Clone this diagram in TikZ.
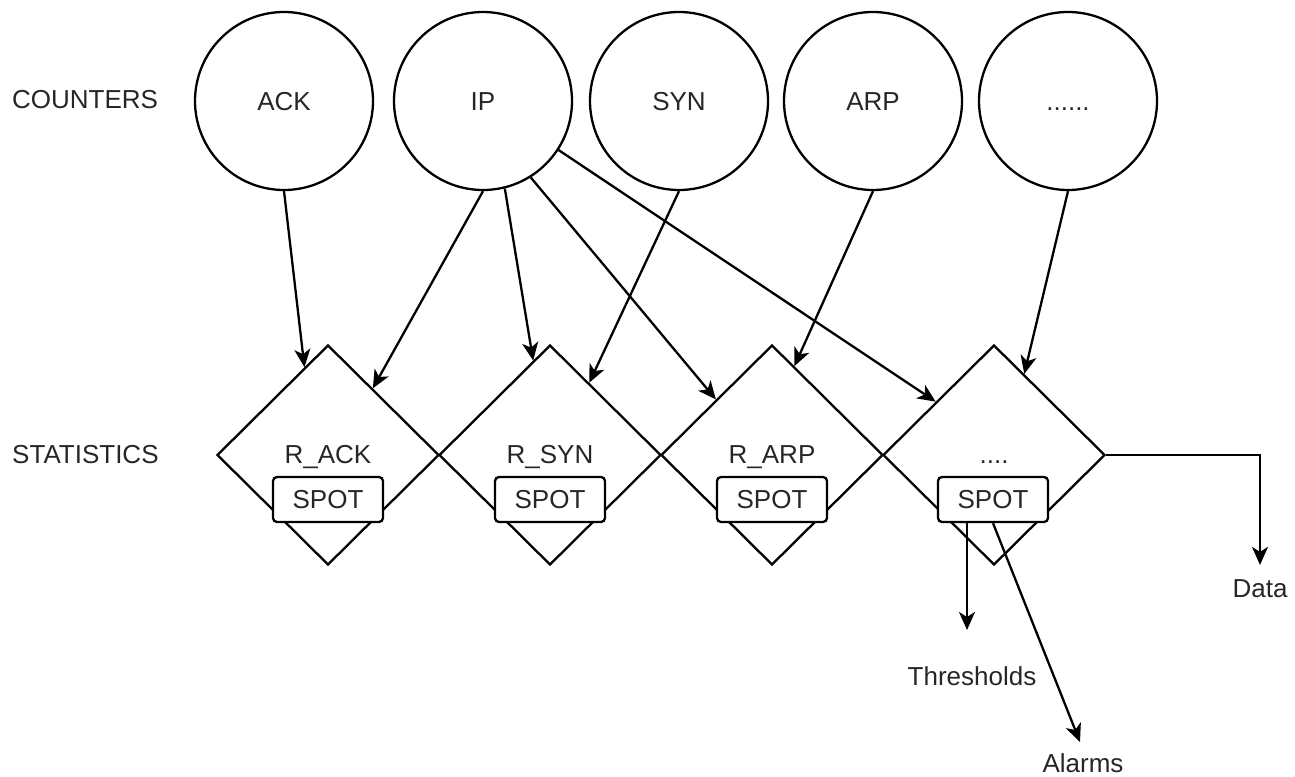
\documentclass[tikz,border=0pt]{standalone}
\usepackage{fontspec}
\setmainfont{Liberation Sans}
\usetikzlibrary{shapes.geometric,arrows.meta,calc}
\begin{document}
\begin{tikzpicture}[x=1pt,y=-1pt,
  every node/.style={font=\fontsize{26}{31}\selectfont, text=black!85},
  ctr/.style={circle, draw, line width=2.3pt, minimum size=178pt, inner sep=0pt, text height=18pt, text depth=0pt},
  dia/.style={diamond, draw, line width=2.3pt, minimum width=222pt, minimum height=220pt, inner sep=0pt},
  spotbox/.style={rectangle, rounded corners=4pt, draw, fill=white, line width=2.3pt, minimum width=110pt, minimum height=45pt, inner sep=0pt},
  lbl/.style={inner sep=0pt, anchor=base},
  arr/.style={line width=2.3pt, -{Stealth[length=18pt,width=16pt,inset=5pt]}}
]
\useasboundingbox (0,0) rectangle (1295,776);

% row labels
\node[lbl, anchor=base west] (counters) at (12,108) {COUNTERS};
\node[lbl, anchor=base west] (statistics) at (12,463) {STATISTICS};

% counters
\node[ctr] (ack) at (284,101) {ACK};
\node[ctr] (ip) at (483,101) {IP};
\node[ctr] (syn) at (679,101) {SYN};
\node[ctr] (arp) at (873,101) {ARP};
\node[ctr] (cdots) at (1068,101) {......};

% statistics diamonds
\node[dia] (dack) at (328,455) {};
\node[dia] (dsyn) at (550,455) {};
\node[dia] (darp) at (772,455) {};
\node[dia] (ddots) at (994,455) {};

\node[lbl] (lack) at ($(dack.center)+(0,8)$) {R\_ACK};
\node[lbl] (lsyn) at ($(dsyn.center)+(0,8)$) {R\_SYN};
\node[lbl] (larp) at ($(darp.center)+(0,8)$) {R\_ARP};
\node[lbl] (ldots) at ($(ddots.center)+(0,8)$) {....};

\node[spotbox] (sack) at (328,499.5) {SPOT};
\node[spotbox] (ssyn) at (550,499.5) {SPOT};
\node[spotbox] (sarp) at (772,499.5) {SPOT};
\node[spotbox] (sdots) at (993,499.5) {SPOT};

% outputs
\node[lbl] (data) at (1260,597) {Data};
\node[lbl] (thr) at (972,685) {Thresholds};
\node[lbl] (alm) at (1083,772) {Alarms};
\coordinate (thrtip) at (967,630);
\coordinate (almtip) at (1080,742);

% connectors
\draw[arr] (ack.south) -- ($(dack.north)!0.21!(dack.west)$);
\draw[arr] (ip.south) -- ($(dack.north)!0.40!(dack.east)$);
\draw[arr] (ip.-76) -- ($(dsyn.north)!0.15!(dsyn.west)$);
\draw[arr] (ip.-58) -- ($(darp.north)!0.50!(darp.west)$);
\draw[arr] (ip.-33) -- ($(ddots.north)!0.52!(ddots.west)$);
\draw[arr] (syn.south) -- ($(dsyn.north)!0.35!(dsyn.east)$);
\draw[arr] (arp.south) -- ($(darp.north)!0.20!(darp.east)$);
\draw[arr] (cdots.south) -- ($(ddots.north)!0.27!(ddots.east)$);

\draw[arr] (ddots.east) -| ($(data.north)+(0,-14)$);
\draw[arr] (sdots.south -| thrtip) -- (thrtip);
\draw[arr] (sdots.south) -- (almtip);
\end{tikzpicture}
\end{document}
